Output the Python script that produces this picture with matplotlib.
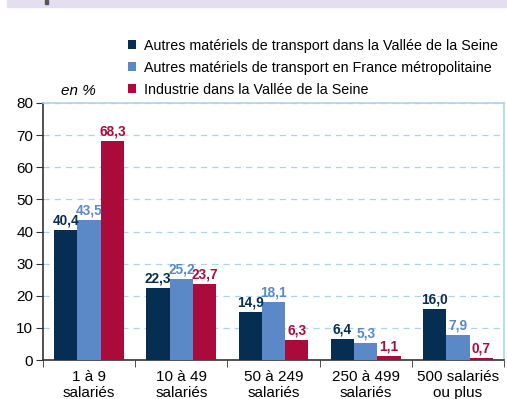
import matplotlib.pyplot as plt
import numpy as np
from matplotlib.patches import Rectangle

plt.rcParams['font.family'] = ['Liberation Sans', 'DejaVu Sans']

categories = ['1 à 9\nsalariés', '10 à 49\nsalariés', '50 à 249\nsalariés',
              '250 à 499\nsalariés', '500 salariés\nou plus']
vallee_transport = [40.4, 22.3, 14.9, 6.4, 16.0]
france_transport = [43.5, 25.2, 18.1, 5.3, 7.9]
vallee_industrie = [68.3, 23.7, 6.3, 1.1, 0.7]
series_names = ['Autres matériels de transport dans la Vallée de la Seine',
                'Autres matériels de transport en France métropolitaine',
                'Industrie dans la Vallée de la Seine']
colors = ['#062d52', '#5b88c6', '#ab0b3b']

fig = plt.figure(figsize=(5.07, 3.99), dpi=100)
# bandeau du haut
fig.patches.append(Rectangle((7 / 507, 1 - 7 / 399), 1, 7 / 399, transform=fig.transFigure,
                             color='#e3dfee', zorder=0))
fig.patches.append(Rectangle((45 / 507, 1 - 4 / 399), 3 / 507, 4 / 399, transform=fig.transFigure,
                             color='#555555', zorder=1))

ax = fig.add_axes([43 / 507, 1 - 360 / 399, 461 / 507, 257 / 399])
x = np.arange(len(categories))
w = 0.253
series = [vallee_transport, france_transport, vallee_industrie]
for k, (vals, col, name) in enumerate(zip(series, colors, series_names)):
    pos = x + (k - 1) * w
    ax.bar(pos, vals, w, color=col, label=name, zorder=3)
    for px, v in zip(pos, vals):
        ax.text(px, v + 0.8, f'{v:.1f}'.replace('.', ','), ha='center', va='bottom',
                color=col, fontsize=9.8, fontweight='bold', zorder=4)

ax.set_xlim(-0.5, 4.5)
ax.set_ylim(0, 80)
ax.set_yticks(range(0, 81, 10))
ax.set_xticks(x)
ax.set_xticklabels(categories, fontsize=11, linespacing=1.2)
ax.set_xticks(np.arange(-0.5, 5, 1), minor=True)
ax.tick_params(axis='x', which='major', length=0, pad=7)
ax.tick_params(axis='x', which='minor', length=5, direction='out', color='#333333')
ax.tick_params(axis='y', length=5, direction='out', color='#333333', labelsize=11, pad=2)
ax.grid(axis='y', color='#a8d6ee', linestyle=(0, (5, 4)), linewidth=0.9, zorder=0)

for side in ['top', 'right']:
    ax.spines[side].set_color('#a8d6ee')
    ax.spines[side].set_linewidth(1.2)
for side in ['left', 'bottom']:
    ax.spines[side].set_color('#333333')
    ax.spines[side].set_linewidth(1.2)

ax.text(-0.31, 81.5, 'en %', fontsize=11, style='italic', ha='left', va='bottom')
ax.legend(loc='lower left', bbox_to_anchor=(0.185, 1.025), frameon=False, fontsize=10.3,
          handlelength=0.55, handleheight=0.55, handletextpad=0.55, labelspacing=0.55,
          borderaxespad=0, borderpad=0)

fig.savefig('out.png', dpi=100)
